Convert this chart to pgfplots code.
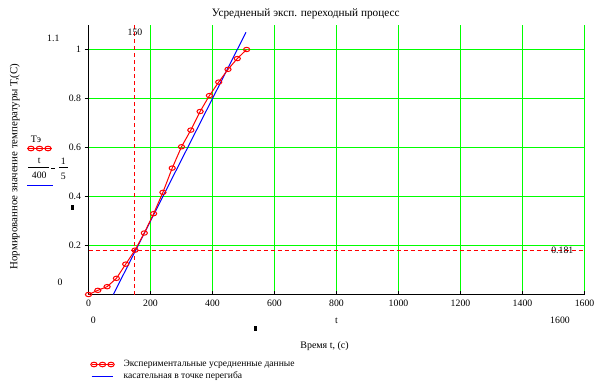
\documentclass[border=0pt]{standalone}
\usepackage{pgfplots}
\pgfplotsset{compat=1.18}
\usepackage{fontspec}
\setmainfont{Liberation Serif}
\definecolor{mgreen}{RGB}{0,255,0}
\definecolor{mred}{RGB}{255,0,0}
\definecolor{mblue}{RGB}{0,0,255}
\begin{document}
\fontsize{10}{12}\selectfont
\begin{tikzpicture}[x=1bp,y=1bp]
\path[use as bounding box] (0,0) rectangle (607,-386);
\begin{axis}[
  at={(88.5bp,-294.5bp)}, anchor=south west,
  scale only axis, width=496bp, height=269.5bp,
  xmin=0, xmax=1600, ymin=0, ymax=1.1,
  axis x line=bottom, axis y line=left,
  axis line style={-, black, line width=1bp},
  xtick={0,200,...,1600}, ytick={0.2,0.4,0.6,0.8,1},
  yticklabels={0.2,0.4,0.6,0.8,1},
  xticklabel style={font=\fontsize{9.8}{11}\selectfont, yshift=-2bp},
  yticklabel style={font=\fontsize{9.8}{11}\selectfont},
  /pgf/number format/assume math mode=true,
  scaled ticks=false,
  x tick label style={/pgf/number format/1000 sep={}},
  grid=major, major grid style={color=mgreen, line width=1bp},
  x tick style={black, line width=1bp},
  y tick style={black, line width=1bp},
  xtick align=inside, ytick align=outside,
  major tick length=4bp,
  clip=false,
]
% dashed markers
\addplot[color=mred, dash pattern=on 4bp off 3bp, line width=1bp, xshift=-0.5bp, forget plot] coordinates {(150,0) (150,1.1)};
\addplot[color=mred, dash pattern=on 4bp off 3bp, line width=1bp, forget plot] coordinates {(0,0.181) (1600,0.181)};
% tangent
\addplot[color=mblue, line width=1bp, forget plot] coordinates {(80,0) (508,1.07)};
% experimental data
\addplot[color=mred, line width=1bp, mark=o, mark size=2.6pt, mark options={xscale=1.2, yscale=0.85, solid}, forget plot] coordinates {
(0,0) (30,0.017) (60,0.032) (90,0.066) (120,0.124) (150,0.181)
(180,0.251) (210,0.330) (240,0.417) (270,0.516) (300,0.603)
(330,0.671) (360,0.747) (390,0.812) (420,0.867) (450,0.919)
(480,0.963) (510,1.0)};
\end{axis}
% texts
\node at (305.8,-14) {\fontsize{11.3}{13}\selectfont Усредненый эксп. переходный процесс};
\node[rotate=90] at (14.7,-166.5) {\fontsize{10.9}{13}\selectfont Нормированное значение температуры Т,(С)};
\node at (135,-32.3) {\fontsize{9.8}{11}\selectfont 150};
\node at (562.3,-250.7) {\fontsize{9.8}{11}\selectfont 0.181};
\node at (53.3,-38.3) {\fontsize{9.8}{11}\selectfont 1.1};
\node at (60,-282) {\fontsize{9.8}{11}\selectfont 0};
\node at (93.3,-320.7) {\fontsize{9.8}{11}\selectfont 0};
\node at (336.5,-320.7) {\fontsize{9.8}{11}\selectfont t};
\node at (560,-320.7) {\fontsize{9.8}{11}\selectfont 1600};
\node at (324.5,-346.5) {Время t, (с)};
% left legend
\node at (36,-139) {Тэ};
\draw[color=mred, line width=1bp] (27,-148.5) -- (52,-148.5);
\foreach \xx in {31,39.5,48} {\draw[color=mred, line width=1bp] (\xx,-148.5) ellipse (3.2 and 2.3);}
\node at (39.3,-160.7) {\fontsize{9.8}{11}\selectfont t};
\draw[line width=1bp] (28,-167.5) -- (49,-167.5);
\node at (39.3,-175.7) {\fontsize{9.8}{11}\selectfont 400};
\draw[line width=1bp] (51,-168.5) -- (54.5,-168.5);
\node at (63.3,-161.3) {\fontsize{9.8}{11}\selectfont 1};
\draw[line width=1bp] (59,-167.5) -- (68,-167.5);
\node at (63.3,-176.3) {\fontsize{9.8}{11}\selectfont 5};
\draw[color=mblue, line width=1bp] (27,-185.5) -- (53,-185.5);
% placeholders
\fill (71,-205) rectangle (74,-210);
\fill (254,-326) rectangle (257,-331);
% bottom legend
\draw[color=mred, line width=1bp] (91.7,-364.5) -- (113.3,-364.5);
\foreach \xx in {94,102.5,111} {\draw[color=mred, line width=1bp] (\xx,-364.5) ellipse (3.2 and 2.3);}
\node[anchor=west, inner sep=0pt] at (123.3,-364.7) {\fontsize{9.6}{11}\selectfont Экспериментальные усредненные данные};
\draw[color=mblue, line width=1bp] (91.7,-376.5) -- (113.3,-376.5);
\node[anchor=west, inner sep=0pt] at (123.3,-376.3) {\fontsize{9.6}{11}\selectfont касательная в точке перегиба};
\end{tikzpicture}
\end{document}
